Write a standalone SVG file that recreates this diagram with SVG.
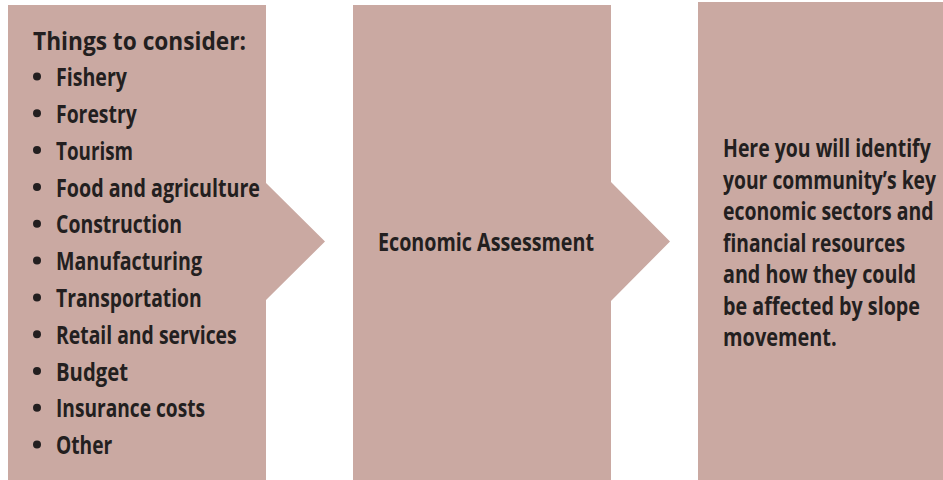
<svg xmlns="http://www.w3.org/2000/svg" width="943" height="480" viewBox="0 0 943 480">
<style>
.box{fill:#caa9a2;}
.t{font-family:"Open Sans","Noto Sans","Liberation Sans",sans-serif;font-weight:700;font-size:24.5px;fill:#231f20;}
.b{fill:#231f20;}
</style>
<rect width="943" height="480" fill="#ffffff"/>
<g id="node-considerations">
<polygon class="box" points="8,5 266,5 266,183 325,241.5 266,300 266,480 8,480"/>
<text class="t" x="33" y="50" textLength="213" lengthAdjust="spacingAndGlyphs">Things to consider:</text>
<circle class="b" cx="37" cy="76.5" r="4"/><text class="t" x="56" y="86" textLength="71" lengthAdjust="spacingAndGlyphs">Fishery</text>
<circle class="b" cx="37" cy="113.3" r="4"/><text class="t" x="56" y="122.8" textLength="80.7" lengthAdjust="spacingAndGlyphs">Forestry</text>
<circle class="b" cx="37" cy="150.1" r="4"/><text class="t" x="56" y="159.6" textLength="77" lengthAdjust="spacingAndGlyphs">Tourism</text>
<circle class="b" cx="37" cy="187" r="4"/><text class="t" x="56" y="196.5" textLength="204" lengthAdjust="spacingAndGlyphs">Food and agriculture</text>
<circle class="b" cx="37" cy="223.8" r="4"/><text class="t" x="56" y="233.3" textLength="126" lengthAdjust="spacingAndGlyphs">Construction</text>
<circle class="b" cx="37" cy="260.6" r="4"/><text class="t" x="56" y="270.1" textLength="146" lengthAdjust="spacingAndGlyphs">Manufacturing</text>
<circle class="b" cx="37" cy="297.4" r="4"/><text class="t" x="56" y="306.9" textLength="145.7" lengthAdjust="spacingAndGlyphs">Transportation</text>
<circle class="b" cx="37" cy="334.2" r="4"/><text class="t" x="56" y="343.7" textLength="180.7" lengthAdjust="spacingAndGlyphs">Retail and services</text>
<circle class="b" cx="37" cy="371" r="4"/><text class="t" x="56" y="380.5" textLength="72" lengthAdjust="spacingAndGlyphs">Budget</text>
<circle class="b" cx="37" cy="407.8" r="4"/><text class="t" x="56" y="417.3" textLength="149" lengthAdjust="spacingAndGlyphs">Insurance costs</text>
<circle class="b" cx="37" cy="444.6" r="4"/><text class="t" x="56" y="454.1" textLength="56.3" lengthAdjust="spacingAndGlyphs">Other</text>
</g>
<g id="node-assessment">
<polygon class="box" points="353,5 611,5 611,182 670,241.5 611,301 611,480 353,480"/>
<text class="t" x="378" y="250.7" textLength="216" lengthAdjust="spacingAndGlyphs">Economic Assessment</text>
</g>
<g id="node-description">
<rect class="box" x="698" y="2" width="245" height="478"/>
<text class="t" x="723" y="157" textLength="207.7" lengthAdjust="spacingAndGlyphs">Here you will identify</text>
<text class="t" x="723" y="188.5" textLength="213" lengthAdjust="spacingAndGlyphs">your community’s key</text>
<text class="t" x="723" y="220" textLength="210.5" lengthAdjust="spacingAndGlyphs">economic sectors and</text>
<text class="t" x="723" y="251.5" textLength="182" lengthAdjust="spacingAndGlyphs">financial resources</text>
<text class="t" x="723" y="283" textLength="193" lengthAdjust="spacingAndGlyphs">and how they could</text>
<text class="t" x="723" y="314.5" textLength="197" lengthAdjust="spacingAndGlyphs">be affected by slope</text>
<text class="t" x="723" y="346" textLength="113.7" lengthAdjust="spacingAndGlyphs">movement.</text>
</g>
<g id="connectors"></g>
</svg>
